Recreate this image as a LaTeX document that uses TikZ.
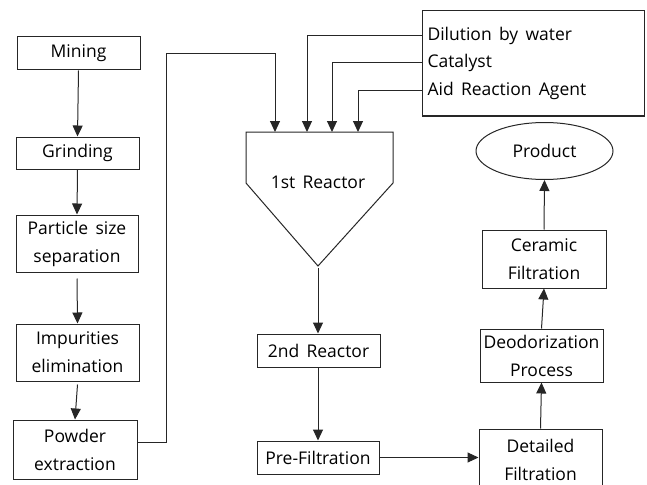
\documentclass[tikz,border=0pt]{standalone}
\usepackage{fontspec}
\setmainfont[WordSpace=1.6]{Open Sans}
\usetikzlibrary{arrows.meta,shapes.geometric,calc}
\begin{document}
\begin{tikzpicture}[x=1pt,y=-1pt,
  line width=1pt,
  every node/.style={font=\fontsize{17.5}{28}\selectfont, text=black},
  box/.style={draw=black!85, rectangle, inner sep=0pt, align=center},
  arr/.style={draw=black!85, -{Triangle[length=11pt,width=10pt]}},
  ln/.style={draw=black!85}]
\useasboundingbox (0,0) rectangle (647,484);
\clip (0,0) rectangle (647,484);
% left column
\node[box, minimum width=123pt, minimum height=33pt] (mining) at (78.5,53.5) {Mining};
\node[box, minimum width=123pt, minimum height=32pt] (grind) at (77.5,153) {Grinding};
\node[box, minimum width=122pt, minimum height=57pt] (part) at (77,243.5) {Particle size\\separation};
\node[box, minimum width=123pt, minimum height=57pt] (impur) at (77.5,352.5) {Impurities\\elimination};
\node[box, minimum width=124pt, minimum height=59pt] (powder) at (75,449.5) {Powder\\extraction};
\draw[arr] (mining.south) -- (grind.north);
\draw[arr] (grind.south) -- (part.north);
\draw[arr] ([yshift=-6pt]part.south) -- (impur.north);
\draw[arr] ([yshift=-3pt]impur.south) -- (powder.north);
% info box
\node[box, minimum width=222pt, minimum height=105pt] (info) at (533,63.5) {};
\node[anchor=west, inner sep=0pt] (t1) at (427,36) {Dilution by water};
\node[anchor=west, inner sep=0pt] (t2) at (427,63) {Catalyst};
\node[anchor=west, inner sep=0pt] (t3) at (427,91) {Aid Reaction Agent};
% 1st reactor
\coordinate (rtl) at (246,132);
\coordinate (rtr) at (393,132);
\coordinate (rbl) at (246,183);
\coordinate (rbr) at (393,183);
\coordinate (apex) at (318,266);
\draw[ln, line join=miter] (rbl) -- (rtl) -- (rtr) -- (rbr) -- (apex) -- cycle;
\node (r1) at (318,182) {1st Reactor};
\coordinate (in1) at (275,132);
\coordinate (in2) at (307,132);
\coordinate (in3) at (332,132);
\coordinate (in4) at (358,132);
\coordinate (pw) at (166,54);
\draw[arr] ([yshift=7.5pt]powder.east) -| (pw) -| (in1);
\draw[arr] (t1.west -| info.west) -| (in2);
\draw[arr] (t2.west -| info.west) -| (in3);
\draw[arr] (t3.west -| info.west) -| (in4);
% middle column
\node[box, minimum width=123pt, minimum height=33pt] (r2) at (318.5,350.5) {2nd Reactor};
\node[box, minimum width=122pt, minimum height=33pt] (pre) at (318,457.5) {Pre-Filtration};
\draw[arr] ([yshift=-2pt]apex) -- (apex |- r2.north);
\draw[arr] (r2.south -| pre.north) -- (pre.north);
% right column
\node[box, minimum width=123pt, minimum height=61pt] (det) at (540.5,459.5) {Detailed\\Filtration};
\node[box, minimum width=123pt, minimum height=53pt] (deo) at (541.5,355.5) {Deodorization\\Process};
\node[box, minimum width=124pt, minimum height=58pt] (cer) at (544,259) {Ceramic\\Filtration};
\node[draw=black!85, ellipse, minimum width=137pt, minimum height=57pt, inner sep=0pt] (prod) at (544.5,151) {Product};
\draw[arr] (pre.east) -- (pre.east -| det.west);
\draw[arr] (det.north) -- (deo.south);
\draw[arr] (deo.north) -- (cer.south);
\draw[arr] (cer.north) -- (prod.south);
\end{tikzpicture}
\end{document}
